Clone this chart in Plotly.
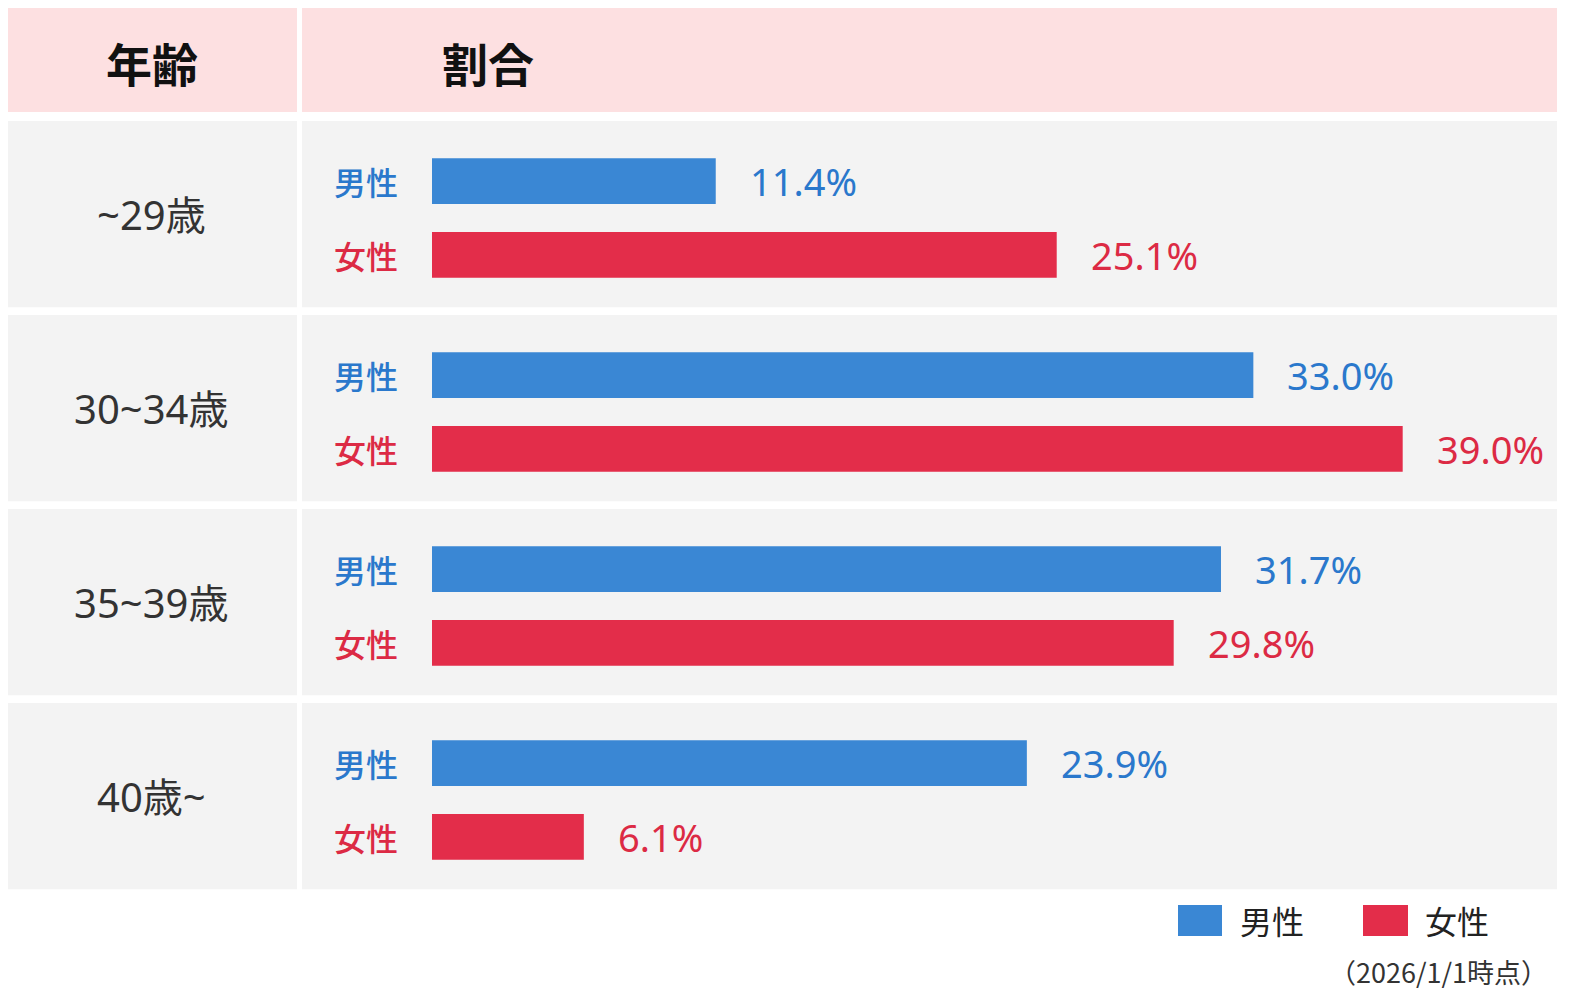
import plotly.graph_objects as go

ages = ["~29歳", "30~34歳", "35~39歳", "40歳~"]
male = [11.4, 33.0, 31.7, 23.9]
female = [25.1, 39.0, 29.8, 6.1]
series_names = ["男性", "女性"]
header_labels = ["年齢", "割合"]
note = "（2026/1/1時点）"

W, H = 1569, 1002
blue = "#3a87d4"
red = "#e32d4a"
blue_txt = "#2a78cc"
red_txt = "#dc2a44"
font = "Noto Sans CJK JP"
latin = "Noto Sans, Noto Sans CJK JP"


def px_x(v):
    return v / W


def px_y(v):
    return 1 - v / H


fig = go.Figure()
fig.add_trace(go.Bar(y=ages, x=male, name=series_names[0], orientation="h",
                     marker=dict(color=blue, line=dict(width=0))))
fig.add_trace(go.Bar(y=ages, x=female, name=series_names[1], orientation="h",
                     marker=dict(color=red, line=dict(width=0))))

shapes = []
# header band
shapes.append(dict(type="rect", xref="paper", yref="paper", x0=px_x(8), x1=px_x(297),
                   y0=px_y(112), y1=px_y(8), fillcolor="#fde0e1", line_width=0, layer="below"))
shapes.append(dict(type="rect", xref="paper", yref="paper", x0=px_x(302), x1=px_x(1557),
                   y0=px_y(112), y1=px_y(8), fillcolor="#fde0e1", line_width=0, layer="below"))
# row backgrounds
for i in range(len(ages)):
    shapes.append(dict(type="rect", xref="paper", yref="y", x0=px_x(8), x1=px_x(297),
                       y0=i - 0.50, y1=i + 0.46, fillcolor="#f3f3f3", line_width=0, layer="below"))
    shapes.append(dict(type="rect", xref="paper", yref="y", x0=px_x(302), x1=px_x(1557),
                       y0=i - 0.50, y1=i + 0.46, fillcolor="#f3f3f3", line_width=0, layer="below"))
# legend swatches
shapes.append(dict(type="rect", xref="paper", yref="paper", x0=px_x(1178), x1=px_x(1222),
                   y0=px_y(936), y1=px_y(905), fillcolor=blue, line_width=0))
shapes.append(dict(type="rect", xref="paper", yref="paper", x0=px_x(1363), x1=px_x(1408),
                   y0=px_y(936), y1=px_y(905), fillcolor=red, line_width=0))

annotations = []
for cx, lab in [(152, header_labels[0]), (488, header_labels[1])]:
    annotations.append(dict(x=px_x(cx), y=px_y(62), xref="paper", yref="paper", text=lab,
                            xanchor="center", yanchor="middle", showarrow=False,
                            font=dict(family=font, size=46, color="#111", weight=700)))

for i, a in enumerate(ages):
    annotations.append(dict(x=px_x(151), y=i - 0.02, xref="paper", yref="y", text=a,
                            xanchor="center", yanchor="middle", showarrow=False,
                            font=dict(family=latin, size=40, color="#333")))
    for vals, name, col, shift in [(male, series_names[0], blue_txt, 37),
                                   (female, series_names[1], red_txt, -37)]:
        annotations.append(dict(x=px_x(400), y=a, xref="paper", yref="y", yshift=shift,
                                xanchor="right", yanchor="middle", text=name, showarrow=False,
                                font=dict(family=font, size=32, color=col, weight=500)))
        annotations.append(dict(x=vals[i], y=a, xref="x", yref="y", yshift=shift, xshift=32,
                                xanchor="left", yanchor="middle", text=f"{vals[i]:.1f}%",
                                showarrow=False, font=dict(family=latin, size=38, color=col)))

annotations.append(dict(x=px_x(1238), y=px_y(920), xref="paper", yref="paper", xanchor="left",
                        yanchor="middle", text=series_names[0], showarrow=False,
                        font=dict(family=font, size=32, color="#222")))
annotations.append(dict(x=px_x(1423), y=px_y(920), xref="paper", yref="paper", xanchor="left",
                        yanchor="middle", text=series_names[1], showarrow=False,
                        font=dict(family=font, size=32, color="#222")))
annotations.append(dict(x=px_x(1550), y=px_y(971), xref="paper", yref="paper", xanchor="right",
                        yanchor="middle", text=note, showarrow=False,
                        font=dict(family=font, size=27, color="#333")))

fig.update_layout(
    width=W, height=H,
    margin=dict(l=0, r=0, t=0, b=0),
    paper_bgcolor="white", plot_bgcolor="rgba(0,0,0,0)",
    barmode="group", bargap=0.24, bargroupgap=0.38,
    showlegend=False,
    xaxis=dict(domain=[px_x(432), px_x(1557)], range=[0, 45.2], visible=False, fixedrange=True),
    yaxis=dict(domain=[px_y(897), px_y(121)], autorange="reversed", visible=False, fixedrange=True),
    shapes=shapes, annotations=annotations,
)

# drop the browser's default body margin so the figure sits at the page origin
fig.write_html("out.html", config={"displayModeBar": False},
               post_script="document.body.style.margin='0';")
